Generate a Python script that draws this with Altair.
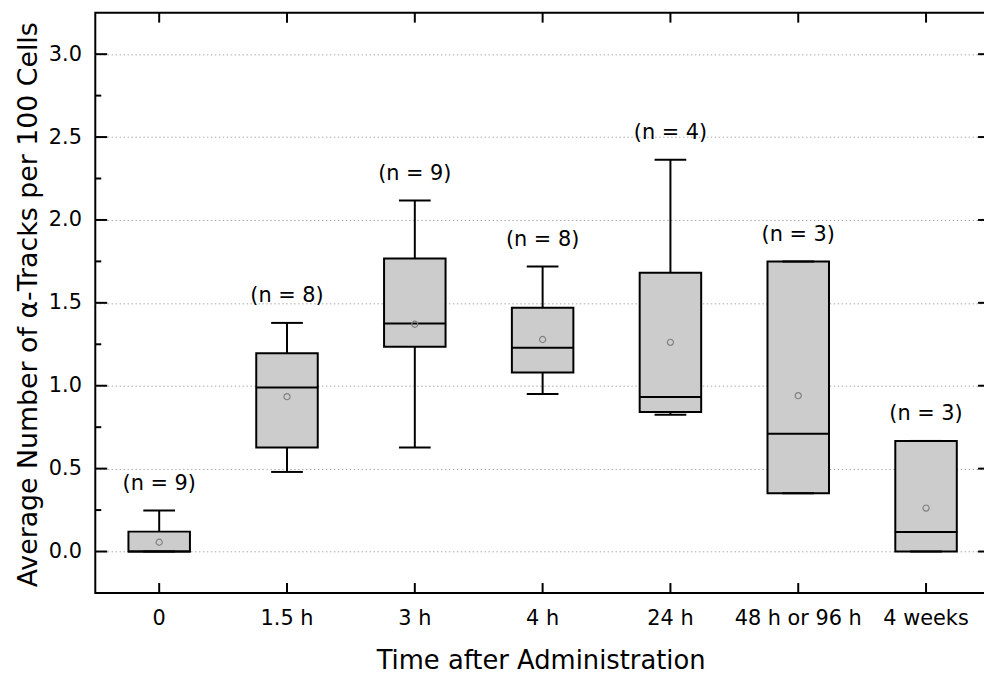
import json
import altair as alt
import pandas as pd

categories = ["0", "1.5 h", "3 h", "4 h", "24 h", "48 h or 96 h", "4 weeks"]
whisker_low = [0.0, 0.48, 0.627, 0.95, 0.825, 0.351, 0.0]
q1 = [0.0, 0.627, 1.235, 1.080, 0.842, 0.351, 0.0]
median = [0.0, 0.99, 1.375, 1.229, 0.932, 0.711, 0.118]
q3 = [0.12, 1.196, 1.768, 1.471, 1.681, 1.749, 0.667]
whisker_high = [0.247, 1.379, 2.118, 1.719, 2.363, 1.749, 0.667]
mean = [0.056, 0.934, 1.371, 1.279, 1.262, 0.940, 0.262]
n_values = [9, 8, 9, 8, 4, 3, 3]

y_major = [0.0, 0.5, 1.0, 1.5, 2.0, 2.5, 3.0]
y_minor = [0.25, 0.75, 1.25, 1.75, 2.25, 2.75]

df = pd.DataFrame({
    "cat": categories,
    "wlo": whisker_low,
    "q1": q1,
    "med": median,
    "q3": q3,
    "whi": whisker_high,
    "mean": mean,
    "label": [f"(n = {n})" for n in n_values],
})
major_df = pd.DataFrame({"v": y_major})
minor_df = pd.DataFrame({"v": y_minor})
cat_df = pd.DataFrame({"cat": categories})

W, H = 902, 585
FONT = "DejaVu Sans"

xscale = alt.Scale(domain=categories, paddingInner=0, paddingOuter=0)
yscale = alt.Scale(domain=[-0.25, 3.25], nice=False, zero=False)

x_enc = alt.X(
    "cat:N", sort=categories, scale=xscale,
    axis=alt.Axis(
        title="Time after Administration", labelAngle=0, ticks=False, domain=False,
        grid=False, labelPadding=15, labelFont=FONT, labelFontSize=21,
        labelColor="black", titleFont=FONT, titleFontSize=26, titleFontWeight="normal",
        titleColor="black", titleY=76, titleX=449, titleBaseline="alphabetic",
        titleAlign="center",
    ),
)
y_axis = alt.Axis(
    title="Average Number of α-Tracks per 100 Cells", values=y_major, format=".1f",
    grid=True, gridColor="#aaaaaa", gridDash=[1.5, 2.5], gridWidth=1,
    domain=False, ticks=False, labelPadding=14, labelFont=FONT, labelFontSize=21,
    labelColor="black", titleFont=FONT, titleFontSize=27, titleFontWeight="normal",
    titleColor="black", titleAngle=-90, titleX=-59, titleY=294,
    titleAlign="center", titleBaseline="alphabetic",
)

base = alt.Chart(df).encode(x=x_enc)

boxes = base.mark_bar(size=62, fill="#cccccc", stroke="black", strokeWidth=2, opacity=1).encode(
    y=alt.Y("q1:Q", scale=yscale, axis=y_axis), y2="q3:Q"
)
upper_whisker = base.mark_rule(color="black", strokeWidth=2, opacity=1).encode(y="q3:Q", y2="whi:Q")
lower_whisker = base.mark_rule(color="black", strokeWidth=2, opacity=1).encode(y="wlo:Q", y2="q1:Q")
upper_cap = base.mark_tick(size=32, thickness=2, color="black", orient="horizontal", opacity=1).encode(y="whi:Q")
lower_cap = base.mark_tick(size=32, thickness=2, color="black", orient="horizontal", opacity=1).encode(y="wlo:Q")
median_line = base.mark_tick(size=63, thickness=2, color="black", orient="horizontal", opacity=1).encode(y="med:Q")
mean_pt = base.mark_point(shape="circle", size=38, filled=False, stroke="#808080",
                          strokeWidth=1.2, opacity=1).encode(y="mean:Q")
labels = base.mark_text(dy=-27, fontSize=21, font=FONT, color="black", baseline="middle").encode(
    y="whi:Q", text="label:N"
)

# inward frame ticks
left_major = alt.Chart(major_df).mark_rule(color="black", strokeWidth=2).encode(
    y=alt.Y("v:Q", scale=yscale), x=alt.value(0), x2=alt.value(12))
left_minor = alt.Chart(minor_df).mark_rule(color="black", strokeWidth=2).encode(
    y=alt.Y("v:Q", scale=yscale), x=alt.value(0), x2=alt.value(6))
right_major = alt.Chart(major_df).mark_rule(color="black", strokeWidth=2).encode(
    y=alt.Y("v:Q", scale=yscale), x=alt.value(W - 12), x2=alt.value(W))
bottom_ticks = alt.Chart(cat_df).mark_rule(color="black", strokeWidth=2).encode(
    x=alt.X("cat:N", sort=categories, scale=xscale), y=alt.value(H - 10), y2=alt.value(H))
top_ticks = alt.Chart(cat_df).mark_rule(color="black", strokeWidth=2).encode(
    x=alt.X("cat:N", sort=categories, scale=xscale), y=alt.value(0), y2=alt.value(10))

chart = alt.layer(
    boxes, upper_whisker, lower_whisker, upper_cap, lower_cap, median_line, mean_pt, labels,
    left_major, left_minor, right_major, bottom_ticks, top_ticks,
).properties(
    width=W, height=H,
    autosize=alt.AutoSizeParams(type="none"),
    padding={"left": 88, "top": 2, "right": -6, "bottom": 86},
    background="white",
).configure_view(stroke="black", strokeWidth=2)

chart.save("out.html", embed_options={"renderer": "svg", "actions": False})
